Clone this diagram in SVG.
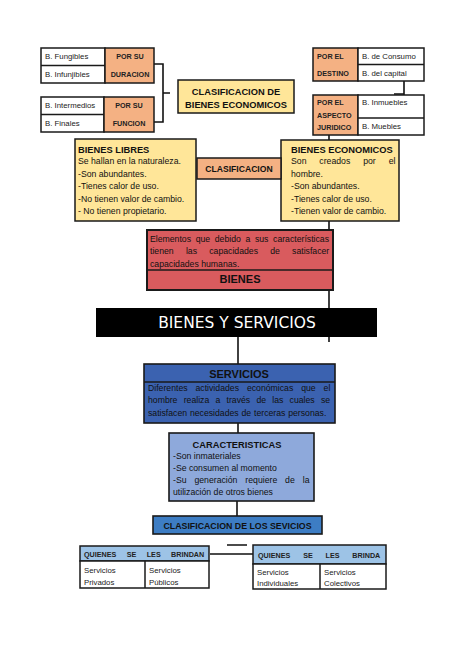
<svg xmlns="http://www.w3.org/2000/svg" width="474" height="670" viewBox="0 0 474 670">
<style>
.b{stroke:#1a1a1a;stroke-width:1.5}
.w{fill:#ffffff}
.o{fill:#F4B183}
.y{fill:#FFE699}
.t{font-family:"Liberation Sans",Arial,sans-serif;font-size:7.8px;fill:#222}
.tb{font-family:"Liberation Sans",Arial,sans-serif;font-size:7.2px;font-weight:bold;fill:#222}
.body{font-family:"Liberation Sans",Arial,sans-serif;font-size:8.7px;fill:#111}
.h{font-family:"Liberation Sans",Arial,sans-serif;font-weight:bold;fill:#111}
.c{stroke:#111;stroke-width:1.6;fill:none}
</style>
<rect width="474" height="670" fill="#ffffff"/>
<g id="connectors">
<path class="c" d="M154,64 H163 V122 H154 M163,93 H170"/>
<path class="c" d="M412,63 H404 V125 H412 M404,94 H394"/>
<path class="c" d="M329,135 V140"/>
<path class="c" d="M329,221 V308"/>
<path class="c" d="M329,337 V342"/>
<path class="c" d="M238,337 V364"/>
<path class="c" d="M238,423 V433"/>
<path class="c" d="M237,501 V516"/>
<path class="c" stroke-width="2" d="M210,554 H254 M227,545 H247"/>
</g>
<g id="duracion">
<rect class="w b" x="41" y="48" width="64" height="35"/>
<line class="b" x1="41" y1="65.5" x2="105" y2="65.5"/>
<rect class="o b" x="105" y="48" width="49" height="35"/>
<text class="t" x="45" y="59">B. Fungibles</text>
<text class="t" x="45" y="77">B. Infunjibles</text>
<text class="tb" x="130" y="59" text-anchor="middle">POR SU</text>
<text class="tb" x="130" y="77" text-anchor="middle">DURACION</text>
</g>
<g id="funcion">
<rect class="w b" x="41" y="97" width="63" height="35"/>
<line class="b" x1="41" y1="114.5" x2="104" y2="114.5"/>
<rect class="o b" x="104" y="97" width="50" height="35"/>
<text class="t" x="45" y="108">B. Intermedios</text>
<text class="t" x="45" y="126">B. Finales</text>
<text class="tb" x="129" y="108" text-anchor="middle">POR SU</text>
<text class="tb" x="129" y="126" text-anchor="middle">FUNCION</text>
</g>
<g id="clasif-economicos">
<rect class="y b" x="178" y="80" width="116" height="33"/>
<text class="h" x="236" y="95" font-size="9.3" text-anchor="middle">CLASIFICACION DE</text>
<text class="h" x="236" y="108" font-size="9.3" text-anchor="middle">BIENES ECONOMICOS</text>
</g>
<g id="destino">
<rect class="o b" x="313" y="48" width="45" height="33"/>
<rect class="w b" x="358" y="48" width="66" height="33"/>
<line class="b" x1="358" y1="64.5" x2="424" y2="64.5"/>
<text class="tb" x="317" y="59">POR EL</text>
<text class="tb" x="317" y="76">DESTINO</text>
<text class="t" x="362" y="59">B. de Consumo</text>
<text class="t" x="362" y="76">B. del capital</text>
</g>
<g id="juridico">
<rect class="o b" x="313" y="95" width="45" height="40"/>
<rect class="w b" x="358" y="95" width="66" height="40"/>
<line class="b" x1="358" y1="118" x2="424" y2="118"/>
<text class="tb" x="317" y="105">POR EL</text>
<text class="tb" x="317" y="118">ASPECTO</text>
<text class="tb" x="317" y="130">JURIDICO</text>
<text class="t" x="362" y="105">B. Inmuebles</text>
<text class="t" x="362" y="129">B. Muebles</text>
</g>
<g id="bienes-libres">
<rect class="y b" x="75" y="139" width="121" height="82"/>
<text class="h" x="78" y="153" font-size="9.3">BIENES LIBRES</text>
<text class="body" x="78" y="164">Se hallan en la naturaleza.</text>
<text class="body" x="78" y="176.5">-Son abundantes.</text>
<text class="body" x="78" y="189">-Tienes calor de uso.</text>
<text class="body" x="78" y="201.5">-No tienen valor de cambio.</text>
<text class="body" x="78" y="214">- No tienen propietario.</text>
</g>
<g id="bienes-economicos">
<rect class="y b" x="281" y="140" width="118" height="81"/>
<text class="h" x="291" y="153" font-size="9.3">BIENES ECONOMICOS</text>
<text class="body" x="291" y="164" word-spacing="10.5">Son creados por el</text>
<text class="body" x="291" y="176.5">hombre.</text>
<text class="body" x="291" y="189">-Son abundantes.</text>
<text class="body" x="291" y="201.5">-Tienes calor de uso.</text>
<text class="body" x="291" y="214">-Tienen valor de cambio.</text>
</g>
<g id="clasificacion">
<rect class="o b" x="197" y="158" width="84" height="21"/>
<text class="h" x="239" y="171.5" font-size="8.6" text-anchor="middle">CLASIFICACION</text>
</g>
<g id="bienes">
<rect x="147" y="230" width="186" height="60" fill="#D95B5E" stroke="#1a1a1a" stroke-width="2"/>
<line x1="147" y1="270" x2="333" y2="270" stroke="#1a1a1a" stroke-width="1.6"/>
<text class="body" x="150" y="241.5" fill="#3a0a0a" word-spacing="2.2">Elementos que  debido a sus características</text>
<text class="body" x="150" y="254" fill="#3a0a0a" word-spacing="9.8">tienen las capacidades de satisfacer</text>
<text class="body" x="150" y="266.5" fill="#3a0a0a">capacidades humanas.</text>
<text class="h" x="240" y="283" font-size="11" text-anchor="middle">BIENES</text>
</g>
<g id="bienes-y-servicios">
<rect x="96" y="308" width="281" height="29" fill="#000000"/>
<text x="237" y="328" font-family="'DejaVu Sans',sans-serif" font-size="15.5" fill="#ffffff" text-anchor="middle">BIENES Y SERVICIOS</text>
</g>
<g id="servicios">
<rect x="144" y="364" width="191" height="59" fill="#3B62B0" stroke="#1a1a1a" stroke-width="1.6"/>
<line x1="144" y1="382" x2="335" y2="382" stroke="#1a1a1a" stroke-width="1.4"/>
<text class="h" x="239" y="377.5" font-size="11" fill="#14213d" text-anchor="middle">SERVICIOS</text>
<text class="body" x="148" y="390.5" fill="#14213d" word-spacing="5.5">Diferentes actividades económicas que el</text>
<text class="body" x="148" y="403" fill="#14213d" word-spacing="3.8">hombre realiza a través de las cuales se</text>
<text class="body" x="148" y="415.5" fill="#14213d" word-spacing="0.4">satisfacen necesidades de terceras personas.</text>
</g>
<g id="caracteristicas">
<rect x="169" y="433" width="145" height="68" fill="#8EA9DB" stroke="#1a1a1a" stroke-width="1.6"/>
<text class="h" x="237" y="448" font-size="9.3" fill="#1a1a2e" text-anchor="middle">CARACTERISTICAS</text>
<text class="body" x="173" y="458.5">-Son inmateriales</text>
<text class="body" x="173" y="470.5">-Se consumen al momento</text>
<text class="body" x="173" y="483" word-spacing="5.5">-Su generación requiere de la</text>
<text class="body" x="173" y="495">utilización de otros bienes</text>
</g>
<g id="clasif-servicios">
<rect x="153" y="516" width="169" height="18" fill="#3D7DC4" stroke="#1a1a1a" stroke-width="1.6"/>
<text class="h" x="237.5" y="528.5" font-size="8.8" fill="#172a4d" text-anchor="middle">CLASIFICACION DE LOS SEVICIOS</text>
</g>
<g id="quienes-brindan">
<rect x="80" y="546" width="129" height="15" fill="#9DC3E6" stroke="#1a1a1a" stroke-width="1.5"/>
<rect class="w b" x="80" y="561" width="129" height="27"/>
<line class="b" x1="145" y1="561" x2="145" y2="588"/>
<text class="tb" x="84" y="556.5" fill="#172a4d" word-spacing="8.4">QUIENES SE LES BRINDAN</text>
<text class="t" x="84" y="573">Servicios</text>
<text class="t" x="84" y="585">Privados</text>
<text class="t" x="149" y="573">Servicios</text>
<text class="t" x="149" y="585">Públicos</text>
</g>
<g id="quienes-brinda">
<rect x="253" y="545" width="133" height="19" fill="#9DC3E6" stroke="#1a1a1a" stroke-width="1.5"/>
<rect class="w b" x="253" y="564" width="133" height="25"/>
<line class="b" x1="320" y1="564" x2="320" y2="589"/>
<text class="tb" x="258" y="557.5" fill="#172a4d" word-spacing="10.8">QUIENES SE LES BRINDA</text>
<text class="t" x="257" y="575">Servicios</text>
<text class="t" x="257" y="586">Individuales</text>
<text class="t" x="324" y="575">Servicios</text>
<text class="t" x="324" y="586">Colectivos</text>
</g>
</svg>
